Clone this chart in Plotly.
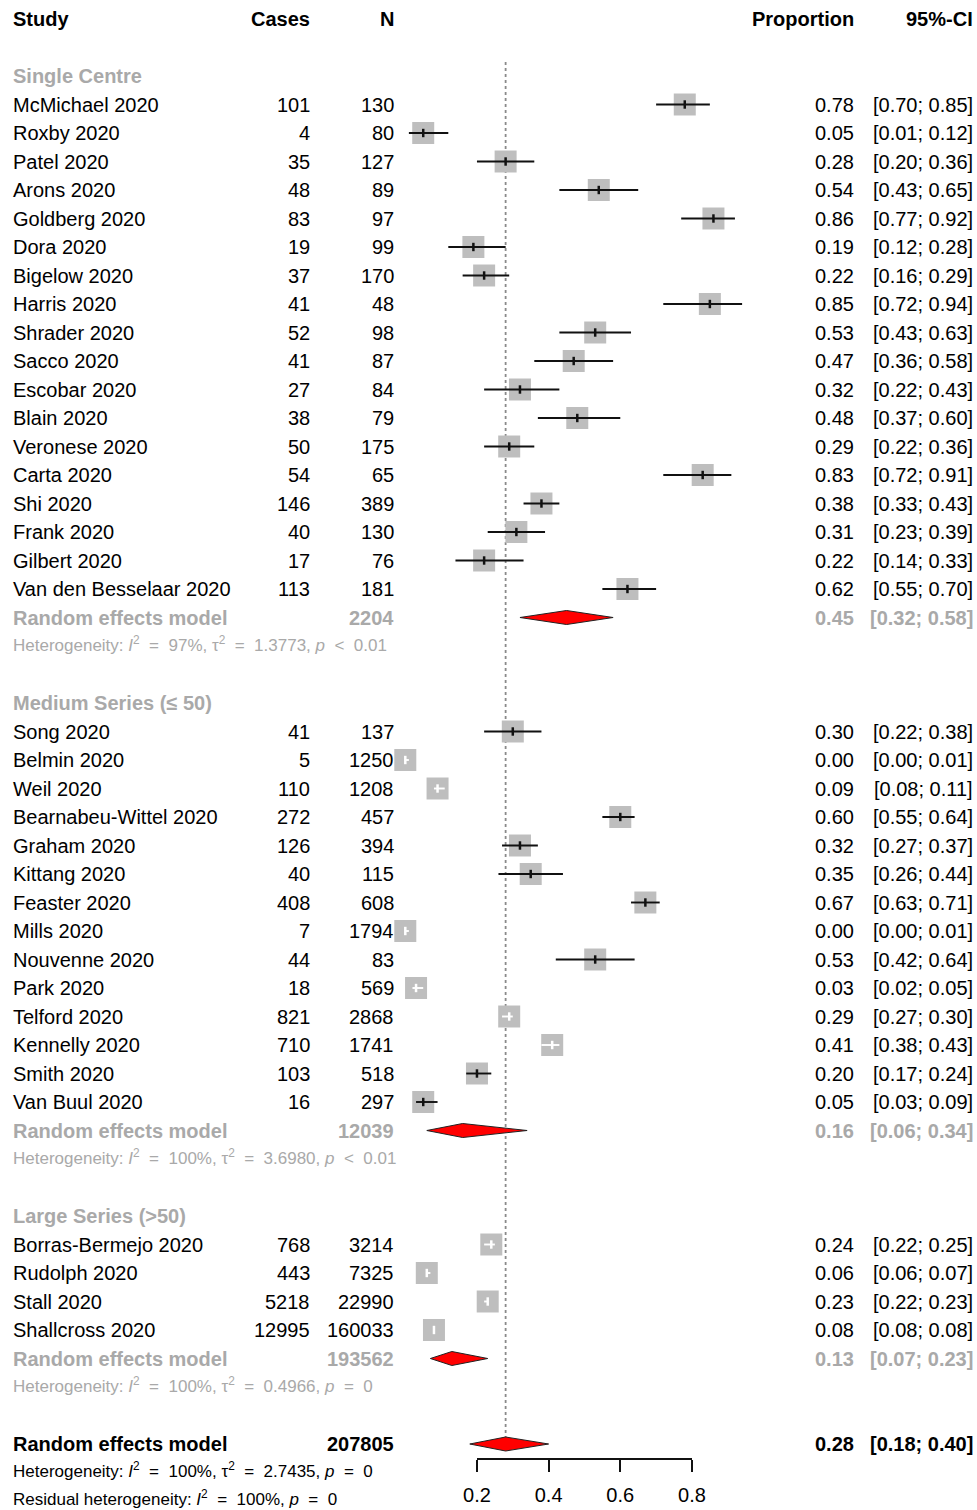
import plotly.graph_objects as go

W, H = 977, 1510
FONT = "Liberation Sans, Arial, sans-serif"
TXT = "#000000"
GRAY = "#a9a9a9"
SQ = "#bebebe"

# ---------------- data ----------------
study = [
    "McMichael 2020", "Roxby 2020", "Patel 2020", "Arons 2020", "Goldberg 2020",
    "Dora 2020", "Bigelow 2020", "Harris 2020", "Shrader 2020", "Sacco 2020",
    "Escobar 2020", "Blain 2020", "Veronese 2020", "Carta 2020", "Shi 2020",
    "Frank 2020", "Gilbert 2020", "Van den Besselaar 2020",
    "Song 2020", "Belmin 2020", "Weil 2020", "Bearnabeu-Wittel 2020", "Graham 2020",
    "Kittang 2020", "Feaster 2020", "Mills 2020", "Nouvenne 2020", "Park 2020",
    "Telford 2020", "Kennelly 2020", "Smith 2020", "Van Buul 2020",
    "Borras-Bermejo 2020", "Rudolph 2020", "Stall 2020", "Shallcross 2020",
]
group = [0] * 18 + [1] * 14 + [2] * 4
cases = [101, 4, 35, 48, 83, 19, 37, 41, 52, 41, 27, 38, 50, 54, 146, 40, 17, 113,
         41, 5, 110, 272, 126, 40, 408, 7, 44, 18, 821, 710, 103, 16,
         768, 443, 5218, 12995]
total = [130, 80, 127, 89, 97, 99, 170, 48, 98, 87, 84, 79, 175, 65, 389, 130, 76, 181,
         137, 1250, 1208, 457, 394, 115, 608, 1794, 83, 569, 2868, 1741, 518, 297,
         3214, 7325, 22990, 160033]
prop = [0.78, 0.05, 0.28, 0.54, 0.86, 0.19, 0.22, 0.85, 0.53, 0.47, 0.32, 0.48, 0.29,
        0.83, 0.38, 0.31, 0.22, 0.62,
        0.30, 0.00, 0.09, 0.60, 0.32, 0.35, 0.67, 0.00, 0.53, 0.03, 0.29, 0.41, 0.20, 0.05,
        0.24, 0.06, 0.23, 0.08]
lower = [0.70, 0.01, 0.20, 0.43, 0.77, 0.12, 0.16, 0.72, 0.43, 0.36, 0.22, 0.37, 0.22,
         0.72, 0.33, 0.23, 0.14, 0.55,
         0.22, 0.00, 0.08, 0.55, 0.27, 0.26, 0.63, 0.00, 0.42, 0.02, 0.27, 0.38, 0.17, 0.03,
         0.22, 0.06, 0.22, 0.08]
upper = [0.85, 0.12, 0.36, 0.65, 0.92, 0.28, 0.29, 0.94, 0.63, 0.58, 0.43, 0.60, 0.36,
         0.91, 0.43, 0.39, 0.33, 0.70,
         0.38, 0.01, 0.11, 0.64, 0.37, 0.44, 0.71, 0.01, 0.64, 0.05, 0.30, 0.43, 0.24, 0.09,
         0.25, 0.07, 0.23, 0.08]
ci_inside = [False] * 18 + [False, True, True, False, False, False, False, True, False,
                            True, True, True, False, False] + [True, True, True, True]

sub_labels = ["Single Centre", "Medium Series (\u2264 50)", "Large Series (>50)"]
sub_total = [2204, 12039, 193562]
sub_prop = [0.45, 0.16, 0.13]
sub_lower = [0.32, 0.06, 0.07]
sub_upper = [0.58, 0.34, 0.23]
sub_i2 = ["97%", "100%", "100%"]
sub_tau2 = ["1.3773", "3.6980", "0.4966"]
sub_p = ["< 0.01", "< 0.01", "= 0"]

overall_total = 207805
overall_prop, overall_lower, overall_upper = 0.28, 0.18, 0.40
overall_i2, overall_tau2, overall_p = "100%", "2.7435", "= 0"
resid_i2, resid_p = "100%", "= 0"

tick_vals = [0.2, 0.4, 0.6, 0.8]
headers = ["Study", "Cases", "N", "Proportion", "95%-CI"]

# ---------------- layout constants ----------------
ROW0, STEP = 19.0, 28.5
X_ZERO_PX, PX_PER_UNIT = 405.3, 358.3
COL_STUDY, COL_CASES, COL_N, COL_PROP, COL_CI = 11, 312, 396, 856, 975
SQ_SIZE = 22
DIA_H = 7
AXIS_Y = 1459
SMALL_DY = -2.5


def row_y(r):
    return ROW0 + r * STEP


ann = []


def txt(xpx, y, s, anchor="left", size=20, color=TXT, bold=False):
    if bold:
        s = "<b>" + s + "</b>"
    ann.append(dict(x=xpx / W, xref="paper", y=y, yref="y", text=s, showarrow=False,
                    xanchor=anchor, yanchor="middle",
                    font=dict(family=FONT, size=size, color=color)))


def op(s):
    # widen spacing around relation symbols like the original plotmath output
    s = s.replace("<", "&lt;")
    return s.replace("= ", "&nbsp;=&nbsp; ").replace("&lt; ", "&nbsp;&lt;&nbsp; ")


def het_text(i2, tau2, p, label="Heterogeneity"):
    s = label + ": <i>I</i><sup>2</sup> " + op("= ") + i2
    if tau2 is not None:
        s += ", \u03c4<sup>2</sup> " + op("= ") + tau2
    s += ", <i>p</i> " + op(p)
    return s


# header
r = 0
y = row_y(r)
for h, xc, a in zip(headers, [COL_STUDY, COL_CASES, COL_N, COL_PROP, COL_CI],
                    ["left", "right", "right", "right", "right"]):
    txt(xc, y, h, anchor=a, bold=True)
r = 2

st_y = [None] * len(study)
dia_x, dia_y = [], []

for g in range(3):
    txt(COL_STUDY, row_y(r), sub_labels[g], color=GRAY, bold=True)
    r += 1
    for i in range(len(study)):
        if group[i] != g:
            continue
        y = row_y(r)
        st_y[i] = y
        txt(COL_STUDY, y, study[i])
        txt(COL_CASES, y, str(cases[i]), anchor="right")
        txt(COL_N, y, str(total[i]), anchor="right")
        txt(COL_PROP, y, f"{prop[i]:.2f}", anchor="right")
        txt(COL_CI, y, f"[{lower[i]:.2f}; {upper[i]:.2f}]", anchor="right")
        r += 1
    y = row_y(r)
    txt(COL_STUDY, y, "Random effects model", color=GRAY, bold=True)
    txt(COL_N, y, str(sub_total[g]), anchor="right", color=GRAY, bold=True)
    txt(COL_PROP, y, f"{sub_prop[g]:.2f}", anchor="right", color=GRAY, bold=True)
    txt(COL_CI, y, f"[{sub_lower[g]:.2f}; {sub_upper[g]:.2f}]", anchor="right", color=GRAY, bold=True)
    dia_x += [sub_lower[g], sub_prop[g], sub_upper[g], sub_prop[g], sub_lower[g], None]
    dia_y += [y, y - DIA_H, y, y + DIA_H, y, None]
    r += 1
    txt(COL_STUDY, row_y(r) + SMALL_DY, het_text(sub_i2[g], sub_tau2[g], sub_p[g]),
        size=17, color=GRAY)
    r += 2

# overall
y_over = row_y(r)
txt(COL_STUDY, y_over, "Random effects model", bold=True)
txt(COL_N, y_over, str(overall_total), anchor="right", bold=True)
txt(COL_PROP, y_over, f"{overall_prop:.2f}", anchor="right", bold=True)
txt(COL_CI, y_over, f"[{overall_lower:.2f}; {overall_upper:.2f}]", anchor="right", bold=True)
dia_x += [overall_lower, overall_prop, overall_upper, overall_prop, overall_lower, None]
dia_y += [y_over, y_over - DIA_H, y_over, y_over + DIA_H, y_over, None]
r += 1
txt(COL_STUDY, row_y(r) + SMALL_DY, het_text(overall_i2, overall_tau2, overall_p), size=17)
r += 1
txt(COL_STUDY, row_y(r) + SMALL_DY - 1,
    het_text(resid_i2, None, resid_p, label="Residual heterogeneity"), size=17)

# ---------------- traces ----------------
fig = go.Figure()

fig.add_trace(go.Scatter(x=prop, y=st_y, mode="markers", cliponaxis=False,
                         marker=dict(symbol="square", size=SQ_SIZE, color=SQ, line=dict(width=0)),
                         hoverinfo="skip", showlegend=False))


def ci_trace(mask, color):
    xs, ys = [], []
    for i in range(len(study)):
        if ci_inside[i] == mask:
            xs += [lower[i], upper[i], None]
            ys += [st_y[i], st_y[i], None]
    return go.Scatter(x=xs, y=ys, mode="lines", line=dict(color=color, width=1.9),
                      hoverinfo="skip", showlegend=False)


def pt_trace(mask, color):
    xs = [prop[i] for i in range(len(study)) if ci_inside[i] == mask]
    ys = [st_y[i] for i in range(len(study)) if ci_inside[i] == mask]
    return go.Scatter(x=xs, y=ys, mode="markers", cliponaxis=False,
                      marker=dict(symbol="line-ns", size=6, line=dict(color=color, width=2.5)),
                      hoverinfo="skip", showlegend=False)


fig.add_trace(ci_trace(False, "#111111"))
fig.add_trace(ci_trace(True, "#ffffff"))
fig.add_trace(pt_trace(False, "#111111"))
fig.add_trace(pt_trace(True, "#ffffff"))

fig.add_trace(go.Scatter(x=dia_x, y=dia_y, mode="lines", fill="toself", fillcolor="#ff0000",
                         line=dict(color="#222222", width=1), hoverinfo="skip", showlegend=False))

# invisible trace to carry the bottom axis
fig.add_trace(go.Scatter(x=tick_vals, y=[AXIS_Y] * len(tick_vals), xaxis="x2", yaxis="y",
                         mode="markers", marker=dict(opacity=0), hoverinfo="skip", showlegend=False))

# reference line at overall estimate
fig.add_shape(type="line", xref="x", yref="y", x0=overall_prop, x1=overall_prop,
              y0=62, y1=y_over - DIA_H, line=dict(color="#8a8a8a", width=1.8, dash="dot"),
              layer="below")

x_min = -X_ZERO_PX / PX_PER_UNIT
x_max = (W - X_ZERO_PX) / PX_PER_UNIT
ax_lo_px = X_ZERO_PX + tick_vals[0] * PX_PER_UNIT
ax_hi_px = X_ZERO_PX + tick_vals[-1] * PX_PER_UNIT

fig.update_layout(
    width=W, height=H, margin=dict(l=0, r=0, t=0, b=0, pad=0, autoexpand=False),
    paper_bgcolor="white", plot_bgcolor="rgba(0,0,0,0)",
    annotations=ann,
    xaxis=dict(range=[x_min, x_max], domain=[0, 1], visible=False, fixedrange=True,
               automargin=False),
    yaxis=dict(range=[H, 0], domain=[0, 1], visible=False, fixedrange=True,
               automargin=False),
    xaxis2=dict(range=[tick_vals[0], tick_vals[-1]], domain=[ax_lo_px / W, ax_hi_px / W],
                anchor="free", position=1 - AXIS_Y / H, showline=True, linecolor="#111111",
                linewidth=1.5, ticks="outside", ticklen=12, tickwidth=1.5, tickcolor="#111111",
                tickvals=tick_vals, ticktext=[f"{v:.1f}" for v in tick_vals],
                tickfont=dict(family=FONT, size=20, color=TXT), showgrid=False,
                zeroline=False, ticklabelstandoff=6, fixedrange=True, automargin=False),
    showlegend=False,
)

fig.write_html(
    "out.html",
    config={"displayModeBar": False, "responsive": False},
    post_script="document.body.style.margin='0';document.body.style.overflow='hidden';",
)
